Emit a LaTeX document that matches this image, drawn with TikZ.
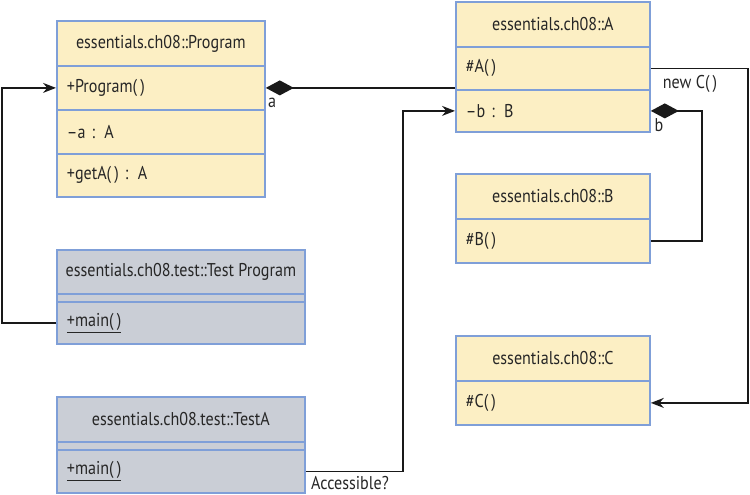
\documentclass[tikz,border=0pt]{standalone}
\usepackage{fontspec}
\setmainfont[FakeStretch=0.87]{PT Sans}
\usetikzlibrary{arrows.meta}
\definecolor{umlblue}{HTML}{7F9FD8}
\definecolor{umlyellow}{HTML}{FCEFC4}
\definecolor{umlgray}{HTML}{CACED6}
\newcommand{\umlfont}{\fontsize{18.5}{20}\selectfont}
\tikzset{
  cell/.style={draw=umlblue, line width=1.8pt, anchor=north west, inner xsep=10pt, inner ysep=0pt,
    font=\umlfont, text=black!85},
  ycell/.style={cell, fill=umlyellow},
  gcell/.style={cell, fill=umlgray},
  hdr/.style={inner xsep=2pt},
  mem/.style={align=left},
  conn/.style={line width=1.4pt, black!90},
  arr/.style={conn, -{Stealth[length=13pt, width=10pt]}},
  comp/.style={conn, {Diamond[length=28pt, width=15pt]}-},
  lbl/.style={font=\umlfont, inner sep=0pt, text=black!85}
}
\begin{document}
\begin{tikzpicture}[x=1pt, y=-1pt]
\useasboundingbox (0,0) rectangle (750,495);
% Program
\node[ycell, hdr, minimum width=208pt, minimum height=45pt] (ph) at (56,20) {essentials.ch08::Program};
\node[ycell, mem, text width=188pt, minimum height=44pt] (pc) at (56,65) {+Program(\,)};
\node[ycell, mem, text width=188pt, minimum height=44pt] (pa) at (56,109) {--a : A};
\node[ycell, mem, text width=188pt, minimum height=43pt] (pg) at (56,153) {+getA(\,) : A};
% A
\node[ycell, hdr, minimum width=194pt, minimum height=45pt] (ah) at (455,1) {essentials.ch08::A};
\node[ycell, mem, text width=174pt, minimum height=43pt] (ac) at (455,46) {\#A(\,)};
\node[ycell, mem, text width=174pt, minimum height=42pt] (ab) at (455,89) {--b : B};
% B
\node[ycell, hdr, minimum width=194pt, minimum height=45pt] (bh) at (455,173) {essentials.ch08::B};
\node[ycell, mem, text width=174pt, minimum height=44pt] (bc) at (455,218) {\#B(\,)};
% C
\node[ycell, hdr, minimum width=194pt, minimum height=45pt] (ch) at (455,335) {essentials.ch08::C};
\node[ycell, mem, text width=174pt, minimum height=44pt] (cc) at (455,380) {\#C(\,)};
% Test Program
\node[gcell, hdr, minimum width=248pt, minimum height=44pt] (th) at (56,249) {essentials.ch08.test::Test Program};
\node[gcell, hdr, minimum width=248pt, minimum height=8pt] (ts) at (56,293) {};
\node[gcell, mem, text width=228pt, minimum height=42pt] (tm) at (56,301) {\underline{+main(\,)}};
% TestA
\node[gcell, hdr, minimum width=248pt, minimum height=45pt] (uh) at (56,396) {essentials.ch08.test::TestA};
\node[gcell, hdr, minimum width=248pt, minimum height=8pt] (us) at (56,441) {};
\node[gcell, mem, text width=228pt, minimum height=43pt] (um) at (56,449) {\underline{+main(\,)}};
% connectors
\draw[arr] (tm.west) -- ++(-54,0) |- (pc.west);
\draw[comp] (pc.east) -- (pc.east -| ah.west);
\draw[arr] (um.east) -- ++(97,0) |- (ab.west);
\draw[comp] (ab.east) -- ++(51,0) |- (bc.east);
\draw[arr] (ac.east) -- ++(97,0) |- (cc.east);
% labels
\node[lbl] (la) at (272,103) {a};
\node[lbl] (lb) at (659,125) {b};
\node[lbl] (lnc) at (690,84) {new C(\,)};
\node[lbl] (lacc) at (350,483) {Accessible?};
\end{tikzpicture}
\end{document}
